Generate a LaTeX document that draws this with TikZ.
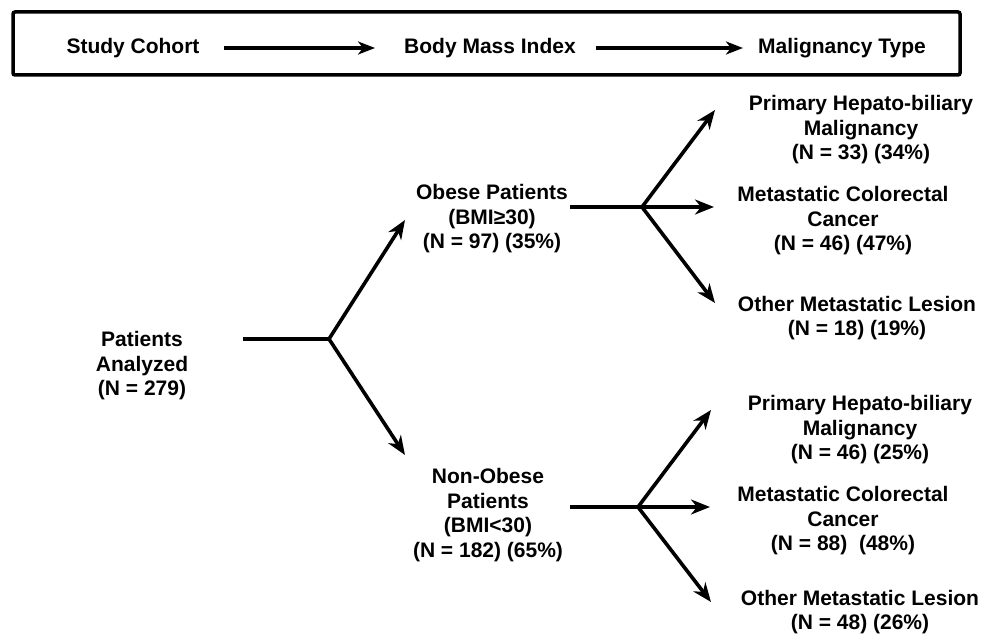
\documentclass[tikz,border=0pt]{standalone}
\usepackage{fontspec}
\setmainfont{Liberation Sans}
\usetikzlibrary{arrows.meta}

\tikzset{
    txt/.style={font=\bfseries\fontsize{21}{24.5}\selectfont, align=center, inner sep=0pt},
    rama/.style={line width=3.6pt},
    flecha/.style={line width=3.6pt, -{Stealth[length=19pt,width=15pt,inset=6pt]}},
    flechacab/.style={line width=4pt, -{Stealth[length=17pt,width=13pt,inset=5pt]}}
}

\begin{document}
\begin{tikzpicture}[x=1pt, y=-1pt]
    \useasboundingbox (0,0) rectangle (1005,634);

    % Cabecera
    \draw[line width=3.5pt, rounded corners=2pt] (13,12) rectangle (960,75);
    \node[txt] (sc) at (133,48) {Study Cohort};
    \node[txt] (bmi) at (490,48) {Body Mass Index};
    \node[txt] (mt) at (842,48) {Malignancy Type};
    \draw[flechacab, shorten <=24pt, shorten >=29pt] (sc) -- (bmi);
    \draw[flechacab, shorten <=20pt, shorten >=15pt] (bmi) -- (mt);

    % Nodos
    \node[txt] (pa) at (142,366) {Patients\\Analyzed\\(N = 279)};
    \node[txt] (ob) at (492,219) {Obese Patients\\(BMI≥30)\\(N = 97) (35\%)};
    \node[txt] (nob) at (488,515) {Non-Obese\\Patients\\(BMI<30)\\(N = 182) (65\%)};

    \node[txt] (phb1) at (861,130) {Primary Hepato-biliary\\Malignancy\\(N = 33) (34\%)};
    \node[txt] (mcc1) at (843,221) {Metastatic Colorectal\\Cancer\\(N = 46) (47\%)};
    \node[txt] (oml1) at (857,318) {Other Metastatic Lesion\\(N = 18) (19\%)};

    \node[txt] (phb2) at (860,430) {Primary Hepato-biliary\\Malignancy\\(N = 46) (25\%)};
    \node[txt] (mcc2) at (843,521) {Metastatic Colorectal\\Cancer\\(N = 88)~~(48\%)};
    \node[txt] (oml2) at (860,612) {Other Metastatic Lesion\\(N = 48) (26\%)};

    % Puntos de las ramas
    \coordinate (a0) at (243,339);
    \coordinate (b0) at (329,339);
    \coordinate (tob) at (405,220);
    \coordinate (tnob) at (405,455);

    \coordinate (a1) at (570,207);
    \coordinate (b1) at (642,207);
    \coordinate (t11) at (715,110);
    \coordinate (t12) at (714,207);
    \coordinate (t13) at (715,303);

    \coordinate (a2) at (570,507);
    \coordinate (b2) at (638,507);
    \coordinate (t21) at (711,410);
    \coordinate (t22) at (710,507);
    \coordinate (t23) at (711,602);

    \draw[rama] (a0) -- (b0);
    \draw[flecha] (b0) -- (tob);
    \draw[flecha] (b0) -- (tnob);

    \draw[rama] (a1) -- (b1);
    \foreach \t in {t11,t12,t13}
        \draw[flecha] (b1) -- (\t);

    \draw[rama] (a2) -- (b2);
    \foreach \t in {t21,t22,t23}
        \draw[flecha] (b2) -- (\t);
\end{tikzpicture}
\end{document}
